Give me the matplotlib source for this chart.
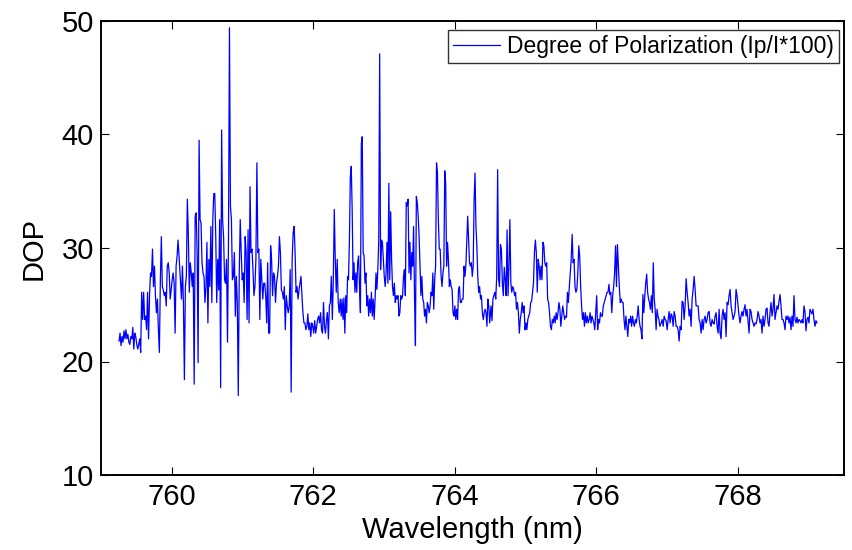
import numpy as np
import matplotlib
matplotlib.use("Agg")
import matplotlib.pyplot as plt

plt.rcParams['font.family'] = ['Liberation Sans', 'DejaVu Sans']

# Wavelength range (nm) covered by each read-off segment (uniform sampling inside)
seg_start = [759.255, 760.137, 762.381, 764.512, 766.916]
seg_end = [760.103, 762.366, 764.493, 766.898, 769.118]

dop_a = [21.8, 22.5, 21.4, 22.2, 21.7, 22.7, 22.0, 22.8, 22.0, 22.4, 21.7, 21.5, 22.2, 22.0, 23.0, 21.1,
         22.5, 22.2, 21.5, 21.1, 21.5, 22.0, 20.8, 26.1, 23.7, 26.1, 23.7, 24.0, 22.8, 26.1, 22.0, 25.8,
         27.8, 27.5, 29.9, 26.6, 28.4, 25.8, 24.3, 25.5, 22.8, 20.8, 27.2, 31.0, 26.6, 26.3, 25.8, 26.1,
         24.9, 28.4, 28.7, 27.8, 25.5, 26.3, 27.2, 27.8, 26.9, 22.5, 28.4, 29.3, 30.7, 29.3]

dop_b = [25.5, 28.4, 25.2, 18.4, 26.6, 27.5, 34.3, 31.3, 26.1, 28.7, 27.8, 26.6, 27.8, 18.0, 32.8, 33.1,
         29.6, 19.9, 39.5, 32.5, 32.2, 28.7, 27.8, 27.5, 25.2, 26.6, 30.5, 23.4, 29.0, 26.6, 31.9, 25.2,
         32.5, 34.8, 34.8, 31.0, 25.2, 29.0, 26.3, 32.5, 17.7, 40.4, 32.5, 31.0, 27.2, 26.9, 29.0, 21.7,
         30.7, 49.4, 33.7, 32.5, 27.2, 27.5, 29.6, 24.0, 27.5, 25.2, 17.0, 27.8, 32.5, 29.6, 27.2, 27.8,
         25.2, 31.0, 29.6, 23.7, 31.6, 23.4, 35.4, 29.6, 29.9, 28.1, 25.8, 26.6, 29.0, 37.5, 29.6, 29.9,
         23.7, 29.0, 27.2, 25.5, 26.9, 26.9, 25.8, 23.4, 28.7, 22.5, 22.5, 30.2, 29.0, 25.8, 27.8, 27.5,
         25.2, 26.9, 27.5, 28.4, 31.0, 29.6, 26.3, 26.1, 25.5, 26.6, 22.8, 25.8, 24.9, 24.3, 24.9, 28.1,
         17.3, 29.0, 31.3, 31.9, 29.6, 26.1, 26.6, 25.5, 26.3, 26.9, 27.5, 25.8, 24.3, 23.4, 23.4, 22.8,
         23.1, 24.2, 22.8, 23.4, 22.2, 23.4, 23.1, 22.5, 23.6, 22.5, 23.1, 23.7, 24.0, 23.4, 24.3, 22.8,
         22.5, 25.2, 23.1, 22.5, 23.7, 24.3, 22.0, 24.9, 25.2, 27.5, 23.7, 27.2, 33.4, 29.0, 26.1, 29.0,
         25.2, 24.3]

dop_c = [25.5, 24.0, 25.5, 23.7, 25.6, 22.5, 25.8, 24.3, 27.5, 27.2, 30.7, 36.3, 37.2, 33.4, 27.2, 28.7,
         26.1, 27.8, 26.1, 28.7, 29.3, 26.6, 24.3, 39.2, 39.8, 29.6, 29.3, 26.9, 27.8, 24.9, 25.8, 24.0,
         25.5, 24.3, 26.1, 24.0, 25.5, 23.7, 25.5, 27.8, 26.35, 28.1, 30.7, 47.1, 28.1, 30.7, 30.5, 29.0,
         27.5, 26.6, 27.8, 30.5, 26.9, 35.7, 27.2, 33.2, 29.0, 26.6, 25.8, 26.9, 25.2, 25.8, 25.5, 25.8,
         24.0, 24.3, 25.8, 25.5, 25.8, 27.5, 28.1, 25.8, 34.0, 33.7, 34.3, 27.8, 30.5, 27.2, 29.6, 28.4,
         31.9, 25.8, 21.4, 34.55, 34.0, 32.8, 31.0, 28.4, 25.8, 27.5, 25.5, 25.2, 24.0, 24.6, 23.4, 25.2,
         24.9, 24.3, 24.9, 26.1, 25.8, 27.8, 24.6, 27.2, 28.4, 37.5, 36.6, 32.5, 29.9, 29.9, 27.5, 26.6,
         27.8, 28.4, 36.8, 35.7, 28.4, 30.5, 29.0, 26.6, 27.2, 26.6, 26.35, 24.3, 24.0, 24.9, 23.7, 24.6,
         23.7, 26.35, 26.6, 25.2, 25.2, 25.5, 25.5, 28.4, 27.5, 28.4, 30.5, 32.8, 30.7, 28.7, 28.4, 28.7,
         27.5, 28.4, 34.3, 36.6, 31.9, 30.2, 27.5, 26.1, 26.6, 25.5, 25.8, 24.3, 23.7, 24.3, 24.6, 24.3,
         23.1, 25.5, 24.9, 23.4]

dop_d = [24.9, 23.6, 25.5, 25.8, 26.1, 25.5, 27.5, 36.9, 27.2, 26.6, 30.3, 29.9, 26.9, 25.8, 28.3, 27.2,
         25.8, 31.6, 25.8, 28.4, 32.5, 26.9, 26.1, 26.6, 26.35, 25.8, 26.1, 24.6, 25.2, 24.3, 22.5, 23.7,
         24.3, 25.2, 24.3, 24.9, 22.8, 23.4, 22.8, 23.7, 24.0, 24.3, 25.2, 25.3, 26.1, 26.9, 29.6, 30.7,
         29.6, 26.1, 29.0, 28.4, 27.2, 28.4, 27.2, 30.5, 30.2, 28.7, 28.4, 28.7, 25.5, 25.2, 24.3, 23.1,
         22.8, 23.7, 23.4, 24.0, 23.4, 24.3, 23.7, 24.3, 25.2, 24.6, 23.1, 24.0, 24.9, 24.3, 23.7, 24.0,
         23.9, 26.1, 25.2, 26.6, 27.8, 29.0, 31.2, 28.7, 29.0, 26.6, 26.1, 26.35, 27.8, 30.2, 29.3, 26.6,
         24.9, 23.7, 24.3, 23.1, 24.3, 23.4, 24.0, 23.4, 23.7, 24.3, 23.4, 24.0, 23.7, 23.4, 22.8, 24.3,
         25.8, 22.8, 23.7, 23.4, 24.3, 24.0, 24.0, 24.9, 25.2, 25.5, 25.8, 26.1, 26.1, 26.8, 25.9, 26.1,
         24.3, 25.8, 26.6, 27.8, 30.2, 26.6, 30.3, 28.4, 26.6, 25.2, 25.5, 25.2, 25.2, 23.7, 22.8, 24.0,
         23.1, 22.2, 23.7, 23.4, 24.0, 23.1, 24.0, 23.4, 23.1, 23.7, 23.4, 24.0, 24.9, 23.7, 23.1, 22.8,
         22.0, 25.9, 24.3, 25.8, 26.9, 27.7, 26.1, 25.5, 25.2, 24.6, 25.8, 24.3, 28.7, 25.5, 24.6, 22.8,
         24.6, 24.0, 23.7, 23.1]

dop_e = [23.4, 23.7, 23.1, 24.0, 23.7, 23.6, 22.8, 23.7, 24.4, 23.4, 24.2, 24.0, 23.1, 24.4, 24.0, 23.1,
         23.1, 22.8, 21.8, 23.1, 22.8, 25.3, 25.2, 23.7, 24.9, 27.3, 26.1, 25.2, 24.0, 24.6, 23.1, 25.5,
         26.35, 27.5, 26.35, 24.9, 24.9, 24.9, 23.7, 23.4, 22.5, 23.7, 22.8, 23.7, 24.0, 23.4, 23.7, 24.3,
         24.4, 23.4, 23.1, 23.7, 23.4, 23.3, 24.0, 24.3, 23.1, 22.5, 24.6, 22.5, 22.0, 24.0, 24.6, 23.7,
         24.3, 22.2, 25.2, 25.0, 25.8, 26.35, 24.9, 24.3, 23.7, 24.0, 24.4, 26.35, 25.8, 24.9, 24.0, 23.4,
         24.0, 24.4, 24.0, 24.6, 25.0, 24.0, 24.6, 23.6, 22.5, 24.6, 24.4, 23.7, 23.4, 23.1, 23.4, 23.3,
         23.7, 24.4, 24.0, 23.4, 23.7, 22.5, 24.0, 23.1, 23.7, 24.6, 24.7, 23.4, 23.1, 24.3, 25.2, 24.0,
         24.6, 25.9, 23.7, 24.3, 24.9, 24.6, 25.3, 25.9, 24.9, 23.7, 23.7, 23.4, 22.8, 24.0, 23.7, 24.0,
         23.4, 23.9, 22.8, 24.0, 23.1, 25.8, 23.7, 23.4, 23.9, 23.4, 23.7, 23.6, 23.4, 23.7, 23.4, 24.9,
         24.4, 22.7, 23.7, 23.9, 23.4, 24.6, 24.4, 24.2, 24.6, 23.7, 23.1, 23.6, 23.4]

segments = [dop_a, dop_b, dop_c, dop_d, dop_e]

x_ticks = [760, 762, 764, 766, 768]
y_ticks = [10, 20, 30, 40, 50]

wl = np.concatenate([np.linspace(s, e, len(v)) for s, e, v in zip(seg_start, seg_end, segments)])
dop = np.concatenate([np.asarray(v, float) for v in segments])

W, H = 853, 550
fig = plt.figure(figsize=(W / 100, H / 100), dpi=100)
ax = fig.add_axes([101 / W, 1 - 475 / H, (844 - 101) / W, (475 - 21) / H])
ax.plot(wl, dop, color='#0000ff', lw=0.9, label='Degree of Polarization (Ip/I*100)')

ax.set_xlim(759.0, 769.5)
ax.set_ylim(10, 50)
ax.set_xticks(x_ticks)
ax.set_yticks(y_ticks)
ax.tick_params(direction='in', length=5.8, width=0.8, top=True, right=True,
               labelsize=21)
ax.tick_params(axis='x', pad=6)
ax.tick_params(axis='y', pad=5)
for sp in ax.spines.values():
    sp.set_linewidth(1.4)
ax.set_xlabel('Wavelength (nm)', fontsize=21, labelpad=3)
ax.set_ylabel('DOP', fontsize=21, labelpad=10)

leg = ax.legend(loc='upper right', bbox_to_anchor=(839 / W, 1 - 30 / H),
                bbox_transform=fig.transFigure, fontsize=16.5, frameon=True,
                fancybox=False, edgecolor='black', handlelength=2.05,
                handletextpad=0.3, borderpad=0.22, borderaxespad=0)
leg.get_frame().set_linewidth(1.0)
for ln in leg.get_lines():
    ln.set_linewidth(0.9)

fig.savefig('out.png', dpi=100)
